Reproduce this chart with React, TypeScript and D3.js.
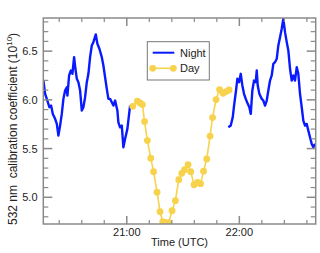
import React from "react";
import * as d3 from "d3";

// time in minutes after 20:00 UTC, value in 10^10
const night1T = [15.56,16.47,17.37,18.76,19.66,20.57,21.79,22.70,23.55,24.46,25.36,26.22,27.12,28.03,28.35,29.25,30.16,31.01,31.92,32.61,33.36,34.21,35.12,36.02,36.87,37.78,38.69,39.54,40.44,41.35,42.20,43.48,44.33,45.40,46.68,47.53,48.44,49.34,50.20,51.10,52.01,52.86,53.77,54.99,55.52,56.43,57.34,58.19,59.09,60.32,61.76];
const night1V = [6.198,6.062,6.010,5.924,5.941,5.856,5.805,5.753,5.633,5.736,5.856,6.010,6.096,6.129,6.044,6.250,6.301,6.267,6.438,6.319,6.216,6.181,6.096,5.890,5.924,6.027,6.181,6.267,6.438,6.558,6.592,6.671,6.576,6.524,6.438,6.353,6.232,6.113,6.010,6.010,5.975,5.941,5.993,5.890,5.770,5.718,5.736,5.513,5.599,5.702,5.941];
const night2T = [114.14,115.42,116.48,117.18,118.24,118.93,119.84,120.75,121.60,122.50,123.41,124.48,125.33,126.08,126.93,127.83,128.74,129.27,129.80,130.66,131.94,132.79,133.69,134.60,135.45,136.36,137.26,138.12,139.02,139.93,140.78,141.69,142.59,143.45,144.35,145.26,146.11,147.02,147.92,148.77,149.68,150.59,151.44,152.34,153.25,154.10,155.01,155.91,156.77,157.67,158.58,159.43,160.34];
const night2V = [5.718,5.736,5.821,5.941,6.096,6.216,6.181,6.267,6.147,6.062,6.010,5.959,5.924,5.856,6.096,6.198,6.181,6.301,6.147,6.062,6.010,5.993,5.941,5.993,6.096,6.198,6.250,6.370,6.386,6.421,6.558,6.643,6.730,6.832,6.695,6.592,6.507,6.319,6.198,6.250,6.198,6.335,6.267,6.062,5.924,5.787,5.736,5.753,5.684,5.616,5.548,5.513,5.548];
const dayT = [63.2,65.65,67.09,68.31,69.48,70.98,72.79,74.28,76.15,77.74,79.18,80.67,82.27,84.14,85.90,87.71,89.31,90.80,92.67,94.10,95.86,97.73,99.32,100.92,102.63,104.39,105.72,107.59,109.45,111.31,112.91,114.51];
const dayV = [5.934,5.986,5.969,5.952,5.777,5.582,5.402,5.263,5.052,4.852,4.749,4.739,4.739,4.862,4.965,5.181,5.246,5.284,5.335,5.263,5.129,5.153,5.140,5.268,5.394,5.628,5.818,6.003,6.106,6.068,6.085,6.101];

const xMajor = [60, 120];
const xMajorLabels = ["21:00", "22:00"];
const xMinor = [24, 36, 48, 72, 84, 96, 108, 132, 144, 156];
const yMajor = [5.0, 5.5, 6.0, 6.5];
const yMinor = [4.8, 4.9, 5.1, 5.2, 5.3, 5.4, 5.6, 5.7, 5.8, 5.9, 6.1, 6.2, 6.3, 6.4, 6.6, 6.7, 6.8];

const BLUE = "#0a1aff";
const YELLOW = "#f7d24c";
const AX = "#8a8a8a";
const FONT = "Liberation Sans, Arial, sans-serif";

export default function App() {
  const L = 43.3, R = 315.7, T = 18, B = 224;
  const x = d3.scaleLinear().domain([15.5, 160.7]).range([L, R]);
  const y = d3.scaleLinear().domain([4.726, 6.84]).range([B, T]);
  const line = d3.line<[number, number]>().x(d => x(d[0])).y(d => y(d[1]));
  const n1 = night1T.map((t, i) => [t, night1V[i]] as [number, number]);
  const n2 = night2T.map((t, i) => [t, night2V[i]] as [number, number]);
  const dy = dayT.map((t, i) => [t, dayV[i]] as [number, number]);

  return (
    <svg width={320} height={253} style={{ position: "absolute", left: 0, top: 0 }} fontFamily={FONT}>
      <rect width={320} height={253} fill="white" />
      <defs>
        <clipPath id="pc"><rect x={L} y={T} width={R - L} height={B - T} /></clipPath>
      </defs>
      <g clipPath="url(#pc)">
        <path d={line(n1) || ""} fill="none" stroke={BLUE} strokeWidth={2.4} strokeLinejoin="round" />
        <path d={line(n2) || ""} fill="none" stroke={BLUE} strokeWidth={2.4} strokeLinejoin="round" />
        <path d={line(dy) || ""} fill="none" stroke={YELLOW} strokeWidth={1.6} />
        {dy.map((d, i) => (
          <circle key={i} cx={x(d[0])} cy={y(d[1])} r={3.4} fill={YELLOW} />
        ))}
      </g>
      <rect x={L} y={T} width={R - L} height={B - T} fill="none" stroke={AX} strokeWidth={1.5} />
      {xMajor.map((t, i) => (
        <g key={"xm" + i}>
          <line x1={x(t)} x2={x(t)} y1={B} y2={B - 8} stroke={AX} strokeWidth={1.5} />
          <line x1={x(t)} x2={x(t)} y1={T} y2={T + 8} stroke={AX} strokeWidth={1.5} />
          <text x={x(t)} y={236} textAnchor="middle" fontSize={11} fill="#222">{xMajorLabels[i]}</text>
        </g>
      ))}
      {xMinor.map((t, i) => (
        <g key={"xn" + i}>
          <line x1={x(t)} x2={x(t)} y1={B} y2={B - 4} stroke={AX} strokeWidth={1.2} />
          <line x1={x(t)} x2={x(t)} y1={T} y2={T + 4} stroke={AX} strokeWidth={1.2} />
        </g>
      ))}
      {yMajor.map((v, i) => (
        <g key={"ym" + i}>
          <line x1={L} x2={L + 9} y1={y(v)} y2={y(v)} stroke={AX} strokeWidth={1.5} />
          <line x1={R} x2={R - 9} y1={y(v)} y2={y(v)} stroke={AX} strokeWidth={1.5} />
          <text x={37.5} y={y(v) + 4} textAnchor="end" fontSize={11} fill="#222">{v.toFixed(1)}</text>
        </g>
      ))}
      {yMinor.map((v, i) => (
        <g key={"yn" + i}>
          <line x1={L} x2={L + 5} y1={y(v)} y2={y(v)} stroke={AX} strokeWidth={1.2} />
          <line x1={R} x2={R - 5} y1={y(v)} y2={y(v)} stroke={AX} strokeWidth={1.2} />
        </g>
      ))}
      <text x={(L + R) / 2} y={246} textAnchor="middle" fontSize={11} fill="#222">Time (UTC)</text>
      <text transform="translate(16.5,225) rotate(-90)" textAnchor="start" fontSize={12} fill="#222" style={{ whiteSpace: "pre" }}>
        {"532 nm  calibration coefficient (10"}<tspan fontSize={8} dy={-5}>10</tspan><tspan dy={5}>)</tspan>
      </text>
      <rect x={147.3} y={41.7} width={62} height={38.3} fill="white" stroke="#777" strokeWidth={1} />
      <line x1={152.7} x2={174.3} y1={52.7} y2={52.7} stroke={BLUE} strokeWidth={2} />
      <text x={180} y={56.7} fontSize={11} fill="#222">Night</text>
      <line x1={152.7} x2={173.3} y1={68.3} y2={68.3} stroke={YELLOW} strokeWidth={1.6} />
      <circle cx={152.7} cy={68.3} r={3.4} fill={YELLOW} />
      <circle cx={173.3} cy={68.3} r={3.4} fill={YELLOW} />
      <text x={180} y={72} fontSize={11} fill="#222">Day</text>
    </svg>
  );
}
